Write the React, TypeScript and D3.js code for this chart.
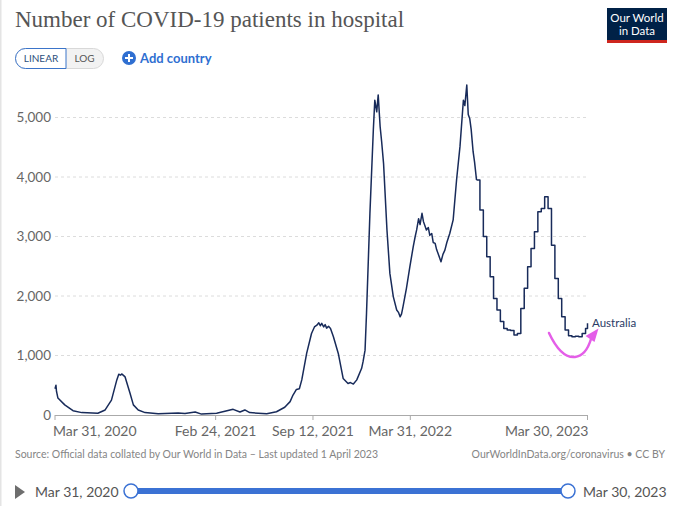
import React from "react";
import * as d3 from "d3";

const dailyDates = [
  "2020-03-31","2020-04-01","2020-04-02","2020-04-03","2020-04-06","2020-04-20","2020-05-07","2020-05-25",
  "2020-06-27","2020-07-12","2020-07-25","2020-08-05","2020-08-09","2020-08-13","2020-08-15","2020-08-18",
  "2020-08-22","2020-09-01","2020-09-08","2020-09-18","2020-10-02","2020-10-29","2020-12-09","2020-12-23",
  "2021-01-13","2021-01-26","2021-02-26","2021-04-01","2021-04-15","2021-04-25","2021-05-05","2021-06-09",
  "2021-06-29","2021-07-16","2021-07-27","2021-08-02","2021-08-09","2021-08-15","2021-08-20","2021-08-30",
  "2021-09-09","2021-09-15","2021-09-20","2021-09-24","2021-09-27","2021-09-30","2021-10-04","2021-10-07",
  "2021-10-10","2021-10-14","2021-10-18","2021-10-24","2021-11-03","2021-11-13","2021-11-23","2021-11-28",
  "2021-12-04","2021-12-11","2021-12-21","2021-12-24","2021-12-28","2021-12-31","2022-01-07","2022-01-14",
  "2022-01-17","2022-01-21","2022-01-24","2022-01-28","2022-01-31","2022-02-04","2022-02-11","2022-02-17",
  "2022-02-24","2022-03-03","2022-03-07","2022-03-10","2022-03-13","2022-03-16","2022-03-23","2022-03-30",
  "2022-04-06","2022-04-10","2022-04-13","2022-04-17","2022-04-20","2022-04-24","2022-04-27","2022-04-30",
  "2022-05-03","2022-05-07","2022-05-10","2022-05-14","2022-05-17","2022-05-21","2022-05-24","2022-05-27",
  "2022-06-02","2022-06-06","2022-06-10","2022-06-14","2022-06-20","2022-06-27","2022-07-04","2022-07-11",
  "2022-07-18","2022-07-21","2022-07-25","2022-07-28","2022-07-31","2022-08-03","2022-08-07","2022-08-10",
  "2022-08-14"
];
const dailyValues = [
  440, 470, 500, 400, 285, 170, 72, 40,
  30, 85, 250, 590, 685, 670, 690, 670,
  640, 370, 170, 85, 40, 20, 35, 25,
  50, 15, 30, 95, 50, 85, 40, 20,
  55, 130, 225, 335, 430, 440, 590, 1035,
  1370, 1480, 1510, 1550, 1500, 1540, 1480, 1520,
  1460, 1490, 1455, 1315, 1035, 615, 530, 545,
  520, 590, 785, 900, 1090, 1710, 3390, 4790,
  5290, 5095, 5380, 4845, 4600, 4230, 3110, 2380,
  1990, 1765, 1720, 1650, 1700, 1820, 2130, 2490,
  2830, 3000, 3110, 3300, 3200, 3390, 3250, 3180,
  3110, 3150, 3020, 3050, 2900, 2885, 2780, 2715,
  2575, 2700, 2770, 2900, 3050, 3280, 3950, 4510,
  5290, 5200, 5545, 5050, 4985, 4800, 4425, 4250,
  3950
];

const weeklyDates = [
  "2022-08-21","2022-08-28","2022-09-04","2022-09-11","2022-09-18","2022-09-25","2022-10-02","2022-10-09",
  "2022-10-16","2022-10-23","2022-10-30","2022-11-06","2022-11-13","2022-11-20","2022-11-27","2022-12-04",
  "2022-12-11","2022-12-18","2022-12-25","2023-01-01","2023-01-08","2023-01-15","2023-01-22","2023-01-29",
  "2023-02-05","2023-02-12","2023-02-19","2023-02-26","2023-03-05","2023-03-12","2023-03-19","2023-03-26",
  "2023-03-30"
];
const weeklyValues = [
  3445, 3000, 2660, 2325, 1960, 1765, 1570, 1455,
  1430, 1420, 1345, 1370, 1790, 2130, 2490, 2800,
  3080, 3415, 3470, 3670, 3470, 2855, 2295, 1960,
  1650, 1430, 1330, 1315, 1325, 1315, 1370, 1455,
  1540
];

const yTicks = [0, 1000, 2000, 3000, 4000, 5000];
const xTickDates = ["2020-03-31", "2021-02-24", "2021-09-12", "2022-03-31", "2023-03-30"];
const xTickLabels = ["Mar 31, 2020", "Feb 24, 2021", "Sep 12, 2021", "Mar 31, 2022", "Mar 30, 2023"];
const seriesName = "Australia";
const title = "Number of COVID-19 patients in hospital";
const sourceText = "Source: Official data collated by Our World in Data – Last updated 1 April 2023";
const creditText = "OurWorldInData.org/coronavirus • CC BY";
const startLabel = "Mar 31, 2020";
const endLabel = "Mar 30, 2023";

const parse = d3.utcParse("%Y-%m-%d");

export default function App() {
  const W = 680, H = 506;
  const x = d3.scaleUtc()
    .domain([parse("2020-03-31") as Date, parse("2023-03-30") as Date])
    .range([55, 587.5]);
  const y = d3.scaleLinear().domain([0, 5000]).range([415, 117.5]);

  const daily: [Date, number][] = dailyDates.map((d, i) => [parse(d) as Date, dailyValues[i]]);
  const weekly: [Date, number][] = [daily[daily.length - 1], ...weeklyDates.map((d, i) => [parse(d) as Date, weeklyValues[i]] as [Date, number])];

  const lineLin = d3.line<[Date, number]>().x(d => x(d[0])).y(d => y(d[1])).curve(d3.curveLinear);
  const lineStep = d3.line<[Date, number]>().x(d => x(d[0])).y(d => y(d[1])).curve(d3.curveStepAfter);

  const lineColor = "#182b5a";
  const font = "Lato, 'Noto Sans', sans-serif";
  const last = weekly[weekly.length - 1];

  return (
    <svg width={W} height={H} style={{ position: "absolute", left: 0, top: 0, background: "#fff" }} fontFamily={font}>
      <rect x={0} y={0} width={W} height={H} fill="#fff" />
      <line x1={0.75} x2={0.75} y1={0} y2={H} stroke="#e4e4e4" strokeWidth={1.5} />

      {/* Title */}
      <text x={15} y={27} fontFamily="'Liberation Serif', 'DejaVu Serif', serif" fontSize={23} fill="#555">{title}</text>

      {/* Logo */}
      <rect x={607} y={8} width={60} height={35} fill="#002147" />
      <rect x={607} y={40} width={60} height={3} fill="#ce261e" />
      <text x={637} y={22} textAnchor="middle" fontSize={11.5} fill="#fff">Our World</text>
      <text x={637} y={35} textAnchor="middle" fontSize={11.5} fill="#fff">in Data</text>

      {/* Linear / Log toggle */}
      <rect x={15.5} y={48.5} width={88} height={20} rx={10} fill="#f2f2f2" stroke="#d8d8d8" />
      <path d="M66,48.5 H25.5 A10,10 0 0 0 25.5,68.5 H66 Z" fill="#fff" stroke="#3b74c9" strokeWidth={1} />
      <text x={41} y={62} textAnchor="middle" fontSize={10} fill="#2d4f7c">LINEAR</text>
      <text x={84.5} y={62} textAnchor="middle" fontSize={10} fill="#555">LOG</text>

      {/* Add country */}
      <circle cx={129} cy={58} r={7} fill="#2f6fd1" />
      <path d="M129,54 V62 M125,58 H133" stroke="#fff" strokeWidth={2} />
      <text x={140} y={62.5} fontSize={13} fontWeight={700} fill="#2f6fd1">Add country</text>

      {/* Grid + y labels */}
      {yTicks.map(t => (
        <g key={t}>
          {t > 0 && (
            <line x1={55} x2={587.5} y1={y(t)} y2={y(t)} stroke="#dcdcdc" strokeDasharray="3,3" strokeWidth={1} />
          )}
          <text x={51} y={y(t) + 4.5} textAnchor="end" fontSize={13.5} fill="#666">{d3.format(",")(t)}</text>
        </g>
      ))}

      {/* x axis */}
      <line x1={55} x2={587.5} y1={415.5} y2={415.5} stroke="#aaa" strokeWidth={1} />
      {xTickDates.map((d, i) => {
        const xx = x(parse(d) as Date);
        const anchor = i === 0 ? "start" : i === xTickDates.length - 1 ? "end" : "middle";
        const tx = i === 0 ? xx - 2 : i === xTickDates.length - 1 ? xx + 1 : xx;
        return (
          <g key={d}>
            <line x1={xx} x2={xx} y1={415} y2={420} stroke="#aaa" />
            <text x={tx} y={436} textAnchor={anchor} fontSize={14} fill="#666">{xTickLabels[i]}</text>
          </g>
        );
      })}

      {/* Line */}
      <path d={lineLin(daily) || ""} fill="none" stroke={lineColor} strokeWidth={1.5} strokeLinejoin="round" />
      <path d={lineStep(weekly) || ""} fill="none" stroke={lineColor} strokeWidth={1.5} strokeLinejoin="round" />
      <text x={592} y={y(last[1]) + 3.5} fontSize={11.5} fill="#2a3b66">{seriesName}</text>

      {/* Pink annotation arrow */}
      <path d="M549,333 C557,350 566,358 575,357 C583,356 588,349 591,339" fill="none" stroke="#e45ee8" strokeWidth={2.5} strokeLinecap="round" />
      <path d="M598.5,328.5 L585.5,336 L594.5,342 Z" fill="#e45ee8" />

      {/* Footer */}
      <text x={15} y={458} fontSize={10.5} fill="#858585">{sourceText}</text>
      <text x={665} y={458} textAnchor="end" fontSize={10.5} fill="#858585">{creditText}</text>

      {/* Timeline slider */}
      <path d="M15,485 L25,492 L15,499 Z" fill="#6e6e6e" />
      <text x={35} y={497} fontSize={14} fill="#555">{startLabel}</text>
      <line x1={131} x2={568} y1={491} y2={491} stroke="#3b72d4" strokeWidth={6} />
      <circle cx={131} cy={491} r={7} fill="#fff" stroke="#3b72d4" strokeWidth={1.5} />
      <circle cx={568} cy={491} r={7} fill="#fff" stroke="#3b72d4" strokeWidth={1.5} />
      <text x={583} y={497} fontSize={14} fill="#555">{endLabel}</text>
    </svg>
  );
}
